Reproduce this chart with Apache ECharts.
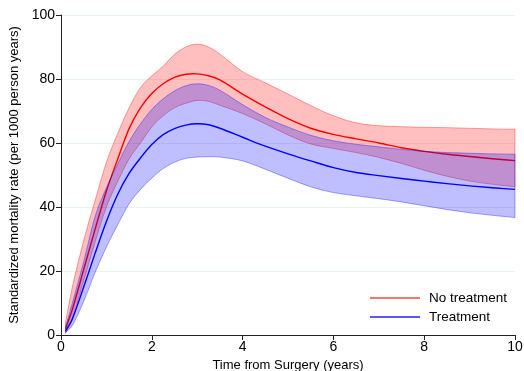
<!DOCTYPE html>
<html>
<head>
<meta charset="utf-8">
<script src="https://cdn.jsdelivr.net/npm/echarts@6/dist/echarts.min.js"></script>
<style>
  html, body { margin: 0; padding: 0; background: #fff; }
  #chart { width: 524px; height: 371px; }
</style>
</head>
<body>
<div id="chart"></div>
<script>
// Time since surgery (years)
var years = [0.1, 0.25, 0.5, 0.75, 1, 1.25, 1.5, 1.75, 2, 2.25, 2.5, 2.75, 3, 3.25, 3.5, 4, 4.5, 5, 5.5, 6, 6.5, 7, 7.5, 8, 8.5, 9, 9.5, 10];

// Standardized mortality rate, no treatment: estimate and 95% band
var noTreat      = [2.0, 8.0, 20.5, 33.0, 45.0, 55.0, 64.5, 71.0, 75.5, 78.5, 80.5, 81.5, 81.6, 81.0, 79.7, 75.3, 71.3, 67.6, 64.6, 62.7, 61.3, 60.0, 58.5, 57.4, 56.5, 55.8, 55.1, 54.5];
var noTreatHigh  = [4.0, 15.0, 29.5, 42.0, 54.0, 63.0, 71.0, 77.3, 81.0, 84.0, 87.7, 90.0, 90.9, 90.0, 87.8, 82.3, 78.8, 75.3, 71.7, 68.5, 66.3, 65.4, 65.1, 64.9, 64.8, 64.6, 64.4, 64.3];
var noTreatLow   = [0.5, 5.0, 17.0, 29.0, 40.0, 48.0, 55.0, 60.0, 65.0, 68.5, 71.0, 72.4, 73.3, 73.0, 71.8, 69.2, 66.0, 62.5, 59.7, 58.3, 57.0, 55.5, 53.6, 51.5, 49.6, 48.1, 47.1, 46.3];

// Standardized mortality rate, treatment: estimate and 95% band
var treat        = [1.2, 5.0, 15.0, 25.5, 35.5, 44.0, 50.5, 55.3, 59.5, 62.6, 64.5, 65.6, 66.0, 65.7, 64.6, 61.8, 59.0, 56.6, 54.4, 52.3, 50.8, 49.8, 48.9, 48.1, 47.3, 46.6, 46.0, 45.5];
var treatHigh    = [2.5, 10.0, 23.0, 37.0, 46.0, 53.5, 60.5, 66.0, 70.5, 73.8, 76.3, 77.9, 78.5, 78.0, 76.5, 72.0, 68.0, 65.0, 62.4, 60.7, 59.6, 58.8, 58.0, 57.4, 57.0, 56.8, 56.6, 56.5];
var treatLow     = [0.8, 3.0, 10.5, 19.5, 27.5, 34.5, 41.0, 45.5, 49.0, 52.0, 54.0, 55.2, 55.6, 55.7, 55.6, 54.4, 51.8, 49.0, 46.3, 44.5, 43.5, 42.6, 41.6, 40.4, 39.2, 38.2, 37.4, 36.7];

var yTicks = [0, 20, 40, 60, 80, 100];
var xTicks = [0, 2, 4, 6, 8, 10];

var FONT = 'Liberation Sans, Arial, Helvetica, sans-serif';

// Smooth path through pixel points using cubic Hermite segments
// (slopes from neighbouring points), written as SVG path commands.
function hermite(pts, start) {
  var n = pts.length, d = (start ? 'M' : 'L') + pts[0][0] + ' ' + pts[0][1];
  function slope(i) {
    var a = pts[Math.max(i - 1, 0)], b = pts[Math.min(i + 1, n - 1)];
    return (b[1] - a[1]) / (b[0] - a[0]);
  }
  for (var i = 0; i < n - 1; i++) {
    var p = pts[i], q = pts[i + 1], h = (q[0] - p[0]) / 3;
    var m0 = slope(i), m1 = slope(i + 1);
    d += ' C' + (p[0] + h) + ' ' + (p[1] + m0 * h) + ' ' + (q[0] - h) + ' ' + (q[1] - m1 * h) + ' ' + q[0] + ' ' + q[1];
  }
  return d;
}

function rows(a, b) {
  return years.map(function (x, i) { return b ? [x, a[i], b[i]] : [x, a[i]]; });
}

// Shaded confidence band between lo and hi, outlined all round
function band(name, hi, lo, fill, edge) {
  return {
    name: name, type: 'custom', silent: true,
    data: rows(lo, hi),
    renderItem: function (params, api) {
      if (params.dataIndexInside !== 0) return null;
      var n = params.dataInsideLength, up = [], dn = [];
      for (var i = 0; i < n; i++) {
        up.push(api.coord([api.value(0, i), api.value(2, i)]));
        dn.push(api.coord([api.value(0, i), api.value(1, i)]));
      }
      dn.reverse();
      var d = hermite(up, true) + ' ' + hermite(dn, false) + ' Z';
      return {
        type: 'path',
        shape: { pathData: d },
        style: { fill: fill, stroke: edge, lineWidth: 1 }
      };
    }
  };
}

// Point-estimate curve
function curve(name, ys, color) {
  return {
    name: name, type: 'custom', silent: true,
    data: rows(ys),
    itemStyle: { color: color },
    renderItem: function (params, api) {
      if (params.dataIndexInside !== 0) return null;
      var n = params.dataInsideLength, pts = [];
      for (var i = 0; i < n; i++) pts.push(api.coord([api.value(0, i), api.value(1, i)]));
      return {
        type: 'path',
        shape: { pathData: hermite(pts, true) },
        style: { fill: null, stroke: color, lineWidth: 1.4 }
      };
    }
  };
}

var series = [
  band('nt band', noTreatHigh, noTreatLow, 'rgba(255,0,0,0.25)', 'rgba(255,0,0,0.35)'),
  curve('No treatment', noTreat, '#ff0000'),
  band('tr band', treatHigh, treatLow, 'rgba(0,0,255,0.25)', 'rgba(0,0,255,0.35)'),
  curve('Treatment', treat, '#0000ff')
];

var chart = echarts.init(document.getElementById('chart'), null, { renderer: 'canvas' });
chart.setOption({
  animation: false,
  backgroundColor: '#ffffff',
  grid: { left: 61, right: 9, top: 15, bottom: 36, containLabel: false, outerBoundsMode: 'none' },
  xAxis: {
    type: 'value', min: xTicks[0], max: xTicks[xTicks.length - 1], interval: 2,
    name: 'Time from Surgery (years)', nameLocation: 'middle', nameGap: 18,
    nameTextStyle: { fontFamily: FONT, fontSize: 13, color: '#000' },
    axisLine: { show: true, onZero: false, lineStyle: { color: '#222', width: 1 } },
    axisTick: { show: true, length: 5, lineStyle: { color: '#222' } },
    axisLabel: { fontFamily: FONT, fontSize: 14, color: '#000', margin: 5 },
    splitLine: { show: false }
  },
  yAxis: {
    type: 'value', min: yTicks[0], max: yTicks[yTicks.length - 1], interval: 20,
    name: 'Standardized mortality rate (per 1000 person years)', nameLocation: 'middle', nameGap: 37,
    nameTextStyle: { fontFamily: FONT, fontSize: 13, color: '#000' },
    axisLine: { show: true, lineStyle: { color: '#222', width: 1 } },
    axisTick: { show: true, length: 5, lineStyle: { color: '#222' } },
    axisLabel: { fontFamily: FONT, fontSize: 14, color: '#000', margin: 6 },
    splitLine: { show: true, lineStyle: { color: '#e9f1f3', width: 1 } }
  },
  legend: {
    data: [
      { name: 'No treatment', itemStyle: { color: '#ff4040' } },
      { name: 'Treatment', itemStyle: { color: '#2020ff' } }
    ],
    orient: 'vertical', left: 370, top: 291, padding: 0,
    icon: 'rect', itemWidth: 50, itemHeight: 1.5, itemGap: 5,
    textStyle: { fontFamily: FONT, fontSize: 13.5, color: '#000', padding: [0, 0, 0, 4] },
    selectedMode: false
  },
  series: series
});
</script>
</body>
</html>
